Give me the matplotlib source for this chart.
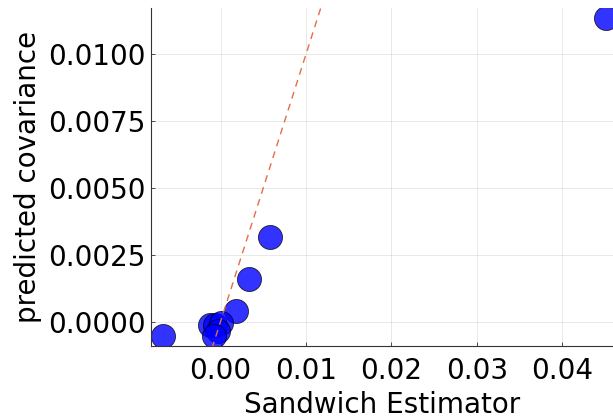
import numpy as np
import matplotlib
matplotlib.use("Agg")
import matplotlib.pyplot as plt

# sandwich estimator vs predicted covariance
sandwich = [0.04514, 0.0058, 0.00334, 0.0018, -0.0067, -0.0012, -0.0006, 0.0000, -0.0003, -0.0008]
predicted = [0.01137, 0.00317, 0.00159, 0.0004, -0.00054, -0.00013, -0.00012, -0.00004, -0.00034, -0.00054]

xticks = [0.00, 0.01, 0.02, 0.03, 0.04]
yticks = [0.0, 0.0025, 0.005, 0.0075, 0.01]

fig = plt.figure(figsize=(6.13, 4.19), dpi=100)
ax = fig.add_axes([151 / 613, 1 - 346 / 419, (613 - 151) / 613, (346 - 8) / 419])

xlim = (-0.00814, 0.04596)
ylim = (-0.00091, 0.01174)

ax.plot([-0.01, 0.05], [-0.01, 0.05], ls=(0, (5, 4)), color="#e26f46", lw=1, zorder=3)
ax.scatter(sandwich, predicted, s=300, color="blue", alpha=0.8, edgecolor="black",
           linewidth=0.6, zorder=2)

ax.set_xlim(xlim)
ax.set_ylim(ylim)
ax.set_xticks(xticks)
ax.set_xticklabels(["%.2f" % v for v in xticks])
ax.set_yticks(yticks)
ax.set_yticklabels(["%.4f" % v for v in yticks])
ax.grid(True, color="black", alpha=0.1, lw=0.6)
ax.set_axisbelow(True)
for s in ["top", "right"]:
    ax.spines[s].set_visible(False)
for s in ["left", "bottom"]:
    ax.spines[s].set_color("#333333")
ax.tick_params(direction="in", length=3, labelsize=20, width=0.6, pad=4,
               colors="#333333", labelcolor="black")
ax.tick_params(axis="x", pad=8)
ax.set_xlabel("Sandwich Estimator", fontsize=20, labelpad=4)
ax.set_ylabel("predicted covariance", fontsize=20, labelpad=4)

fig.savefig("out.png", dpi=100)
